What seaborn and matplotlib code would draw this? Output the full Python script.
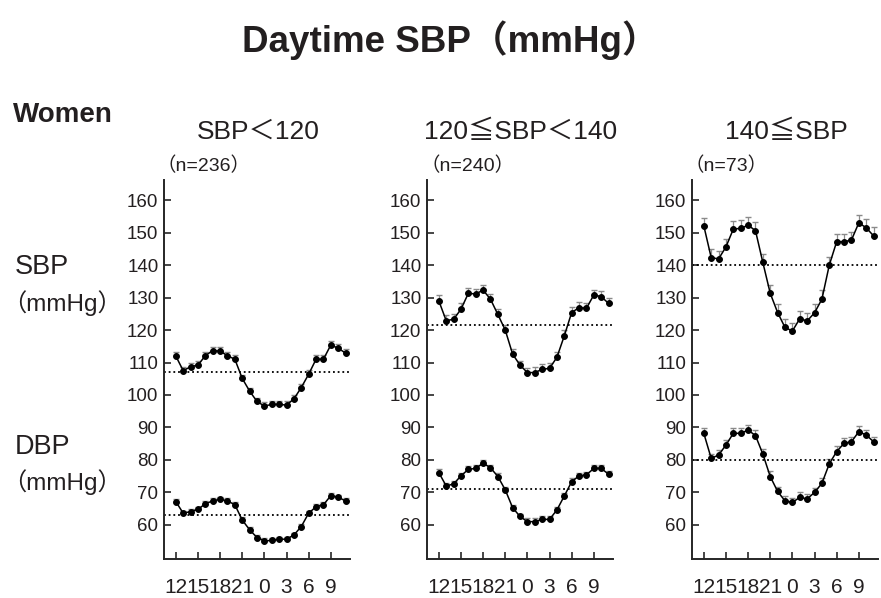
import matplotlib
matplotlib.use("Agg")
import matplotlib.pyplot as plt
import pandas as pd
import numpy as np
import seaborn as sns

# ======================================================
# Data
# ======================================================

hour_labels = ["12", "13", "14", "15", "16", "17", "18", "19", "20", "21", "22", "23",
               "0", "1", "2", "3", "4", "5", "6", "7", "8", "9", "10", "11"]
tick_hours = ["12", "15", "18", "21", "0", "3", "6", "9"]

group_titles = ["SBP\uff1c120", "120\u2266SBP\uff1c140", "140\u2266SBP"]
group_n = ["\uff08n=236\uff09", "\uff08n=240\uff09", "\uff08n=73\uff09"]

sbp_low = [112.0, 107.5, 108.7, 109.2, 112.1, 113.7, 113.5, 112.1, 111.0, 105.1, 101.2, 98.0,
           96.6, 97.1, 97.1, 96.9, 98.8, 102.3, 106.4, 111.0, 111.0, 115.4, 114.4, 112.9]
dbp_low = [67.2, 63.6, 64.1, 64.8, 66.5, 67.4, 67.9, 67.4, 66.2, 61.5, 58.5, 56.1,
           55.1, 55.2, 55.6, 55.6, 56.9, 59.5, 63.6, 65.6, 66.2, 69.0, 68.5, 67.4]
sbp_mid = [129.0, 122.9, 123.3, 126.4, 131.3, 131.1, 132.3, 129.5, 124.8, 120.0, 112.6, 109.2,
           106.9, 106.9, 107.9, 108.2, 111.6, 118.2, 125.4, 126.9, 126.7, 130.8, 130.3, 128.2]
dbp_mid = [76.1, 72.0, 72.6, 75.1, 77.1, 77.4, 79.0, 77.6, 74.9, 70.8, 65.3, 62.6,
           61.0, 61.0, 61.7, 61.7, 64.6, 68.9, 73.3, 75.1, 75.4, 77.4, 77.4, 75.6]
sbp_high = [152.1, 142.3, 141.9, 145.6, 151.1, 151.3, 152.3, 150.6, 140.8, 131.3, 125.4, 120.8,
            119.7, 123.5, 122.8, 125.3, 129.5, 140.0, 147.2, 147.2, 147.7, 153.0, 151.5, 149.0]
dbp_high = [88.2, 80.5, 81.5, 84.6, 88.2, 88.2, 89.2, 87.5, 81.8, 74.9, 70.3, 67.4,
            66.9, 68.5, 68.0, 70.0, 72.8, 78.8, 82.6, 85.1, 85.6, 88.7, 87.7, 85.6]

# standard errors (upper bars only)
sbp_low_se = [1.2, 1.1, 1.3, 1.4, 1.2, 1.2, 1.2, 1.1, 1.3, 1.2, 1.1, 1.1,
              1.2, 1.2, 1.2, 1.3, 1.2, 1.1, 1.2, 1.3, 1.2, 1.2, 1.2, 1.3]
dbp_low_se = [0.8, 0.7, 0.8, 0.8, 0.8, 0.8, 0.8, 0.8, 0.8, 0.8, 0.7, 0.7,
              0.8, 0.8, 0.8, 0.8, 0.7, 0.7, 0.8, 0.8, 0.8, 0.8, 0.8, 0.8]
sbp_mid_se = [1.8, 1.6, 1.7, 1.8, 1.6, 1.6, 1.7, 1.6, 1.7, 1.6, 1.5, 1.4,
              1.5, 1.6, 1.6, 1.6, 1.6, 1.7, 1.6, 1.6, 1.6, 1.6, 1.7, 1.7]
dbp_mid_se = [1.0, 0.9, 1.0, 1.0, 1.0, 1.0, 1.0, 0.9, 1.0, 1.0, 0.9, 0.9,
              1.0, 1.0, 0.9, 1.0, 1.0, 1.0, 1.0, 1.0, 1.0, 1.0, 1.0, 1.0]
sbp_high_se = [2.5, 2.6, 2.5, 2.4, 2.6, 2.6, 2.4, 2.6, 2.5, 2.6, 2.6, 2.5,
               2.4, 2.5, 2.5, 2.7, 2.7, 2.5, 2.5, 2.5, 2.5, 2.5, 2.6, 2.6]
dbp_high_se = [1.6, 1.4, 1.6, 1.6, 1.7, 1.6, 1.6, 1.6, 1.6, 1.6, 1.5, 1.5,
               1.4, 1.6, 1.5, 1.5, 1.5, 1.5, 1.6, 1.6, 1.6, 1.6, 1.6, 1.6]

sbp_ref = [107.0, 121.5, 140.0]
dbp_ref = [63.0, 71.2, 80.0]

sbp_series = [sbp_low, sbp_mid, sbp_high]
dbp_series = [dbp_low, dbp_mid, dbp_high]
sbp_se = [sbp_low_se, sbp_mid_se, sbp_high_se]
dbp_se = [dbp_low_se, dbp_mid_se, dbp_high_se]

y_ticks = [60, 70, 80, 90, 100, 110, 120, 130, 140, 150, 160]

# ======================================================
# Style
# ======================================================

sns.set_style("ticks")
plt.rcParams["font.family"] = ["Liberation Sans", "Noto Sans CJK JP", "DejaVu Sans"]
plt.rcParams["axes.linewidth"] = 1.4
TXT = "#231f20"

fig = plt.figure(figsize=(8.81, 5.98), dpi=100)
W, H = 881, 598


def px_axes(left, top, right, bottom):
    return fig.add_axes([left / W, 1 - bottom / H, (right - left) / W, (bottom - top) / H])


def draw_curve(ax, values, se, ref):
    df = pd.DataFrame({"pos": range(len(hour_labels)), "val": values, "se": se})
    top = df["val"] + df["se"]
    ax.vlines(df["pos"], df["val"], top, color="#8a8a8a", linewidth=0.9, zorder=1)
    ax.plot(df["pos"], top, ls="none", marker="_", ms=4.5, mew=1.0, color="#8a8a8a", zorder=1)
    ax.axhline(ref, color="black", linestyle=(0, (1, 1.6)), linewidth=1.3, zorder=2)
    sns.lineplot(data=df, x="pos", y="val", ax=ax, color="black", linewidth=1.1,
                 marker="o", markersize=4.2, markeredgecolor="black", zorder=3)


lefts = [164, 427, 692]
tick_pos = [hour_labels.index(h) for h in tick_hours]

for i, left in enumerate(lefts):
    ax = px_axes(left, 180, left + 186, 559)
    draw_curve(ax, sbp_series[i], sbp_se[i], sbp_ref[i])
    draw_curve(ax, dbp_series[i], dbp_se[i], dbp_ref[i])

    ax.set_xlim(-1.6, 23.6)
    ax.set_ylim(49.5, 166.2)
    ax.set_yticks(y_ticks)
    ax.set_yticklabels([str(t) for t in y_ticks], fontsize=13.5, color=TXT)
    ax.set_xticks(tick_pos)
    ax.set_xticklabels(tick_hours, fontsize=15, color=TXT)
    ax.tick_params(axis="y", direction="in", length=5, width=1.2, pad=4)
    ax.tick_params(axis="x", direction="in", length=5, width=1.2, pad=14)
    ax.set_xlabel("")
    ax.set_ylabel("")
    sns.despine(ax=ax)

    cx = left + 94
    fig.text(cx / W, 1 - 132 / H, group_titles[i], ha="center", va="center",
             fontsize=19, color=TXT)
    fig.text((left - 7) / W, 1 - 166 / H, group_n[i], ha="left", va="center",
             fontsize=14, color=TXT)

# titles and side labels
fig.text(450 / W, 1 - 40 / H, "Daytime SBP\uff08mmHg\uff09", ha="center", va="center",
         fontsize=26.5, fontweight="bold", color=TXT)
fig.text(13 / W, 1 - 115 / H, "Women", ha="left", va="center",
         fontsize=20, fontweight="bold", color=TXT)
fig.text(15 / W, 1 - 267 / H, "SBP", ha="left", va="center", fontsize=19.5, color=TXT)
fig.text(2 / W, 1 - 303 / H, "\uff08mmHg\uff09", ha="left", va="center", fontsize=17.5, color=TXT)
fig.text(15 / W, 1 - 447 / H, "DBP", ha="left", va="center", fontsize=19.5, color=TXT)
fig.text(2 / W, 1 - 482 / H, "\uff08mmHg\uff09", ha="left", va="center", fontsize=17.5, color=TXT)

fig.savefig("out.png", dpi=100)
plt.close(fig)
